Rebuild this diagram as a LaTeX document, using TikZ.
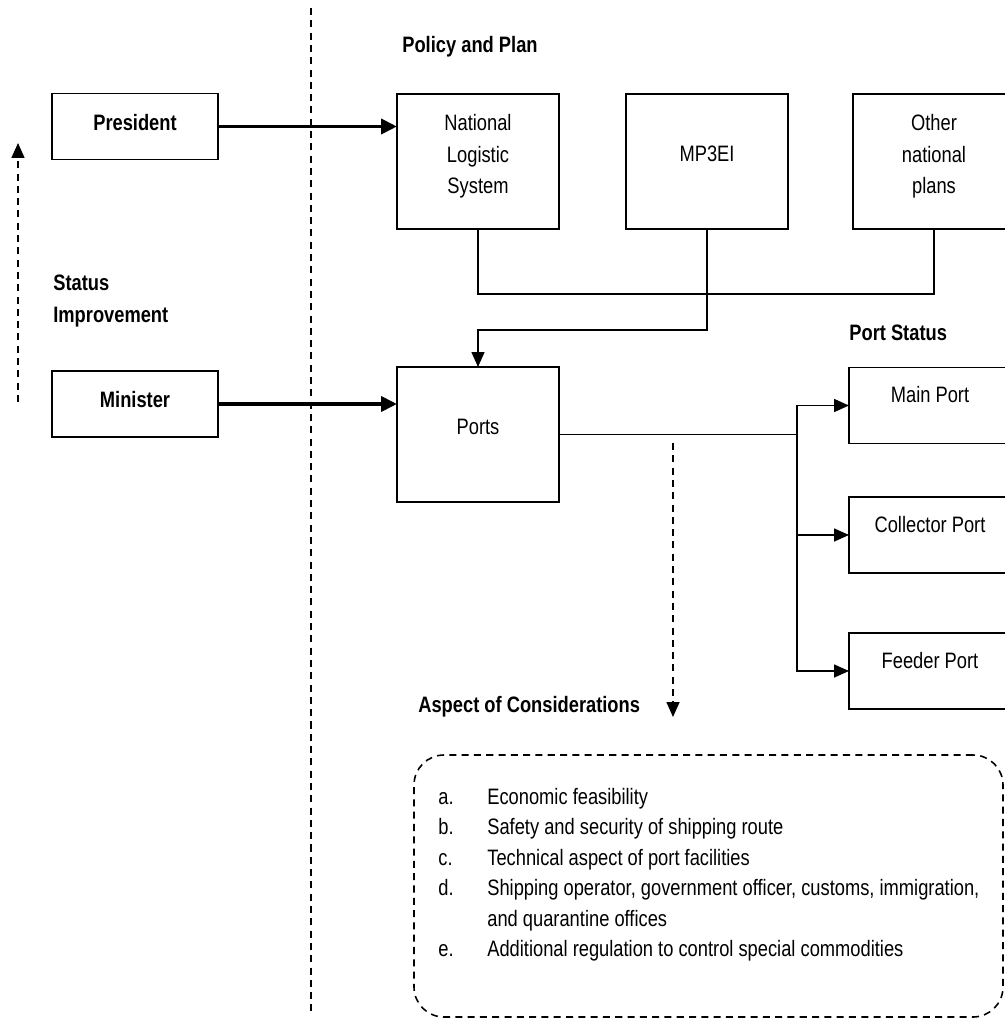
\documentclass[tikz,border=0pt]{standalone}
\usepackage{fontspec}
\setmainfont{Liberation Sans}[FakeStretch=0.82]
\usetikzlibrary{arrows.meta}

\tikzset{
  box/.style={draw, line width=0.9pt, align=center, inner sep=0pt, outer sep=0pt,
    font=\fontsize{12.7}{18}\selectfont},
  plan/.style={box, minimum width=3.24cm, minimum height=2.7cm},
  office/.style={box, minimum width=3.32cm, minimum height=1.32cm,
    font=\fontsize{12.7}{18}\selectfont\bfseries},
  portbox/.style={box, minimum width=3.24cm, minimum height=1.52cm},
  heading/.style={font=\fontsize{12.7}{18}\selectfont\bfseries, inner sep=0pt,
    anchor=west, align=left},
  conn/.style={line width=0.9pt, -{Triangle[length=0.3cm,width=0.26cm]}},
  boldconn/.style={line width=2.2pt, -{Triangle[length=0.32cm,width=0.3cm]}},
  guide/.style={line width=0.9pt, dash pattern=on 4pt off 3pt},
}

\begin{document}
\begin{tikzpicture}[x=0.2mm, y=-0.2mm]
\clip (0,0) rectangle (1005,1019);

\node[office] (president) at (135,126.5) {President\\[-0.455cm]};
\node[office] (minister) at (135,404) {Minister\\[-0.435cm]};
\node[heading] (status) at (53,301) {Status\\Improvement};

\node[heading] (policy) at (402,47) {Policy and Plan};
\node[plan] (nls) at (478,161.5) {National\\Logistic\\System\\[-0.335cm]};
\node[plan] (mp3ei) at (707,161.5) {MP3EI\\[-0.335cm]};
\node[plan] (other) at (934,161.5) {Other\\national\\plans\\[-0.335cm]};

\node[plan] (ports) at (478,434.5) {Ports\\[-0.335cm]};
\node[heading] (portstatus) at (849,333) {Port Status};
\node[portbox] (main) at (930,405.5) {Main Port\\[-0.2cm]};
\node[portbox] (collector) at (930,535) {Collector Port\\[-0.2cm]};
\node[portbox] (feeder) at (930,671) {Feeder Port\\[-0.2cm]};

\node[heading] (aspect) at (418,707) {Aspect of Considerations};
\node[draw, guide, rounded corners=0.6cm, minimum width=11.78cm, minimum height=5.24cm,
  inner sep=0pt, outer sep=0pt] (considerations) at (708.5,886) {};
\node[anchor=base west, inner sep=0pt, font=\fontsize{12.7}{17.4}\selectfont] (aspectlist) at (438,804)
  {\begin{tabular}[t]{@{}p{0.98cm}@{}l@{}}
  a. & Economic feasibility\\
  b. & Safety and security of shipping route\\
  c. & Technical aspect of port facilities\\
  d. & Shipping operator, government officer, customs, immigration,\\
     & and quarantine offices\\
  e. & Additional regulation to control special commodities
  \end{tabular}};

\coordinate (divtop) at (311,8);
\coordinate (divbottom) at (311,1015);
\coordinate (upfrom) at (18,402);
\coordinate (upto) at (18,143);
\coordinate (downfrom) at (673,443);
\coordinate (downto) at (673,717);

\draw[guide] (divtop) -- (divbottom);
\draw[guide, -{Triangle[length=0.3cm,width=0.26cm]}] (upfrom) -- (upto);
\draw[guide, -{Triangle[length=0.3cm,width=0.26cm]}] (downfrom) -- (downto);

\draw[boldconn] (president.east) -- (president.east -| nls.west);
\draw[boldconn] (minister.east) -- (minister.east -| ports.west);
\draw[line width=0.9pt] (nls.south) -- ++(0,65) -| (other.south);
\draw[conn] (mp3ei.south) -- ++(0,101) -| (ports.north);
\draw[line width=0.9pt] (ports.east) -- ++(238,0) coordinate (fork);
\draw[conn] (fork) |- (main.west);
\draw[conn] (fork) |- (collector.west);
\draw[conn] (fork) |- (feeder.west);
\end{tikzpicture}
\end{document}
